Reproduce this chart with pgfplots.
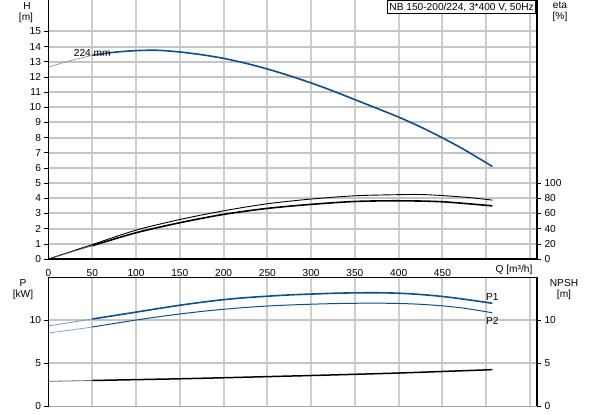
\documentclass[border=0pt]{standalone}
\usepackage{fontspec}
\setmainfont{Liberation Sans}
\usepackage{pgfplots}
\pgfplotsset{compat=1.18}
\definecolor{curveblue}{RGB}{16,78,139}
\definecolor{lightblue}{RGB}{120,150,185}
\definecolor{gridgray}{RGB}{206,206,206}
\definecolor{hgridgray}{RGB}{196,196,196}
\newcommand{\lblfont}{\fontsize{10.2}{12}\selectfont}

\pgfplotsset{
  pumpbase/.style={
    scale only axis, anchor=south west, width=488.5bp,
    xmin=0, xmax=558, clip=false,
    axis line style={draw=none},
    tick align=outside, major tick length=4bp,
    tick style={black, line width=0.6bp},
    tick label style={font=\lblfont},
    /pgf/number format/assume math mode=true,
  },
}

\begin{document}
\begin{tikzpicture}
\path[use as bounding box] (0,0) rectangle (593bp,415bp);

% grid, drawn behind the curves
\foreach \gx in {92,136,180,224,267,311,355,399,442,486,530} {
  \fill[gridgray] (\gx bp-1bp,156bp) rectangle (\gx bp+1bp,415bp);
  \fill[gridgray] (\gx bp-1bp,9bp) rectangle (\gx bp+1bp,138bp);
}
\foreach \gy in {171,186,202,217,232,247,262,277,293,308,323,338,353,368,384,52,95} {
  \fill[hgridgray] (49bp,\gy bp-1bp) rectangle (537bp,\gy bp+1bp);
}

% ---- head and efficiency ----
\begin{axis}[pumpbase,
  at={(48.5bp,156bp)}, height=258bp,
  ymin=0, ymax=17,
  xtick={0,50,...,550},
  xticklabels={0,50,100,150,200,250,300,350,400,450,{},{}},
  ytick={0,1,...,15},
  ytick pos=left,
  major x tick style={draw=none},
  xticklabel style={yshift=-3bp},
]
\addplot[lightblue, line width=0.7bp, smooth] coordinates {
  (0,12.65) (25,13.07) (50,13.42)
};
\addplot[curveblue, line width=1.6bp, smooth] coordinates {
  (50,13.42) (75,13.62) (100,13.73) (125,13.75) (150,13.64) (175,13.46)
  (200,13.22) (225,12.9) (250,12.52) (275,12.08) (300,11.6) (325,11.07)
  (350,10.5) (375,9.93) (400,9.35) (425,8.7) (450,7.98) (475,7.2) (507,6.1)
};
\node[font=\lblfont] at (axis cs:50,13.6) {224 mm};
\end{axis}

\begin{axis}[pumpbase,
  at={(48.5bp,156bp)}, height=258bp,
  ymin=0, ymax=340,
  hide x axis,
  axis y line*=right,
  ytick={0,20,...,100},
]
\addplot[black, line width=0.9bp, smooth] coordinates {
  (0,0) (50,19) (100,38) (150,52) (200,63.5) (250,72.8) (300,79)
  (350,83.3) (400,84.8) (425,85) (450,83.6) (480,81) (507,77.6)
};
\addplot[black!70, line width=0.7bp, smooth] coordinates {
  (0,0) (25,9) (50,17.5)
};
\addplot[black, line width=1.6bp, smooth] coordinates {
  (50,17.5) (100,34.6) (150,47.8) (200,58.8) (250,66.7) (300,72)
  (350,75.8) (400,76.7) (450,75.4) (507,70)
};
\end{axis}

% ---- power and NPSH ----
\begin{axis}[pumpbase,
  at={(48.5bp,8.7bp)}, height=129bp,
  ymin=0, ymax=15,
  xtick={0,50,...,550}, xticklabels={},
  major x tick style={draw=none},
  ytick={0,5,10},
  ytick pos=left,
]
\addplot[lightblue, line width=0.8bp, smooth] coordinates {
  (0,9.35) (25,9.75) (50,10.15)
};
\addplot[curveblue, line width=1.6bp, smooth] coordinates {
  (50,10.15) (75,10.55) (100,10.95) (125,11.36) (150,11.75) (175,12.1)
  (200,12.4) (225,12.63) (250,12.8) (275,12.95) (300,13.05) (325,13.14)
  (350,13.19) (375,13.2) (400,13.15) (425,13.0) (450,12.77) (475,12.45) (507,11.98)
};
\addplot[lightblue, line width=0.7bp, smooth] coordinates {
  (0,8.52) (25,8.86) (50,9.22)
};
\addplot[curveblue, line width=1.0bp, smooth] coordinates {
  (50,9.22) (75,9.63) (100,10.03) (125,10.4) (150,10.73) (175,11.03)
  (200,11.28) (225,11.49) (250,11.66) (275,11.78) (300,11.87) (325,11.94)
  (350,11.98) (375,11.99) (400,11.96) (425,11.86) (450,11.68) (475,11.4) (507,10.88)
};
\node[font=\lblfont] at (axis cs:507,12.75) {P1};
\node[font=\lblfont] at (axis cs:507,9.95) {P2};
\end{axis}

\begin{axis}[pumpbase,
  at={(48.5bp,8.7bp)}, height=129bp,
  ymin=0, ymax=15,
  hide x axis,
  axis y line*=right,
  ytick={0,5,10},
]
\addplot[black!60, line width=0.8bp, smooth] coordinates {
  (0,2.9) (25,2.95) (50,3.0)
};
\addplot[black, line width=1.5bp, smooth] coordinates {
  (50,3.0) (100,3.1) (150,3.2) (200,3.32) (250,3.45) (300,3.58)
  (350,3.72) (400,3.87) (450,4.05) (507,4.26)
};
\end{axis}

% frames
\draw[black, line width=1.1bp] (48.5bp,156bp) -- (48.5bp,415bp);
\draw[black, line width=1.1bp] (537bp,156bp) -- (537bp,415bp);
\draw[black, line width=1.1bp] (48.5bp,156bp) -- (537bp,156bp);
\draw[black, line width=1.1bp] (48.5bp,8.7bp) -- (48.5bp,137.7bp) -- (537bp,137.7bp) -- (537bp,8.7bp);
\draw[black!35, line width=1.5bp] (48.5bp,8.7bp) -- (537bp,8.7bp);

% axis titles
\node[font=\lblfont] at (27bp,409bp) {H};
\node[font=\lblfont] at (26bp,397bp) {[m]};
\node[font=\lblfont] at (560bp,410bp) {eta};
\node[font=\lblfont] at (560bp,398bp) {[\%]};
\node[font=\lblfont] at (23bp,132bp) {P};
\node[font=\lblfont] at (23bp,120bp) {[kW]};
\node[font=\lblfont] at (564bp,132bp) {NPSH};
\node[font=\lblfont] at (564bp,120bp) {[m]};
\node[font=\lblfont] at (514bp,145bp) {Q [m³/h]};
\node[font=\lblfont, draw=black, line width=0.6bp, fill=white, inner sep=2bp, anchor=north east]
  at (536bp,414.6bp) {NB 150-200/224, 3*400 V, 50Hz};
\end{tikzpicture}
\end{document}
